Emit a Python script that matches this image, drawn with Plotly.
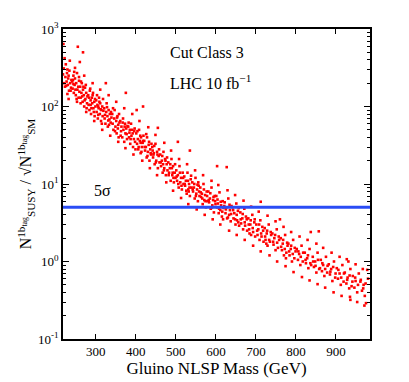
import plotly.graph_objects as go

# valores: massa do gluino (GeV) e significancia N_SUSY/sqrt(N_SM)
massa = [
    218, 220, 221, 223, 224, 225, 227, 228, 230, 231, 233, 234, 236, 238, 239, 219, 222,
    241, 242, 244, 245, 247, 248, 250, 251, 253, 254, 256, 257, 258, 259, 255, 260, 235,
    261, 262, 264, 265, 267, 268, 270, 271, 273, 274, 276, 277, 279, 268,
    281, 282, 284, 285, 287, 288, 290, 291, 293, 294, 296, 297, 299,
    301, 302, 304, 305, 307, 308, 310, 311, 313, 314, 316, 317, 319, 325,
    321, 322, 324, 326, 327, 329, 330, 332, 334, 335, 337, 339,
    341, 342, 344, 346, 347, 349, 351, 352, 354, 356, 357, 359,
    361, 363, 364, 366, 368, 369, 371, 373, 374, 376, 378, 379, 375,
    381, 383, 384, 386, 388, 389, 391, 393, 395, 396, 398,
    401, 403, 405, 406, 408, 410, 412, 413, 415, 417, 419, 402, 418,
    421, 423, 425, 427, 428, 430, 432, 434, 436, 438, 439,
    441, 443, 445, 447, 449, 451, 453, 455, 457, 459, 455,
    461, 463, 465, 467, 469, 471, 473, 475, 477, 479,
    481, 483, 485, 487, 489, 491, 493, 495, 497, 499,
    501, 503, 505, 507, 509, 511, 513, 515, 517, 519, 505,
    521, 523, 525, 527, 529, 531, 533, 535, 537, 539, 535,
    541, 543, 545, 547, 549, 551, 553, 555, 557, 559,
    561, 563, 565, 567, 569, 571, 573, 575, 577, 579,
    581, 583, 585, 587, 589, 591, 593, 595, 597, 599,
    601, 603, 605, 607, 609, 611, 613, 615, 617, 619, 603, 627,
    622, 624, 626, 628, 631, 633, 635, 637, 639,
    642, 644, 646, 649, 651, 653, 655, 658,
    661, 663, 666, 668, 671, 673, 675, 678,
    681, 683, 686, 688, 691, 693, 696, 698,
    701, 704, 706, 709, 711, 714, 716, 719, 712,
    722, 724, 727, 729, 732, 735, 738,
    741, 744, 746, 749, 752, 755, 758, 760,
    762, 765, 767, 770, 773, 776, 779,
    781, 784, 787, 790, 793, 796, 799,
    802, 805, 808, 811, 814, 817,
    822, 825, 828, 831, 834, 838, 837,
    842, 845, 848, 851, 854, 858, 857,
    862, 865, 868, 871, 875, 878,
    882, 885, 888, 891, 895, 898,
    902, 905, 909, 912, 916, 919,
    922, 926, 929, 933, 936, 939, 927, 935,
    942, 946, 949, 953, 957,
    962, 965, 969, 972, 975, 978,
    # segunda leva de pontos, mais espalhados
    226, 229, 232, 237, 243, 246, 249, 252, 258, 263, 266, 269, 272, 275, 278,
    283, 286, 289, 292, 295, 298, 229, 244, 262, 287,
    303, 306, 309, 312, 315, 318, 323, 328, 333, 338, 343, 348, 353, 358,
    362, 367, 372, 377, 382, 387, 392, 397, 306, 331, 355, 385, 399,
    404, 407, 411, 414, 418, 422, 426, 429, 433, 437, 442, 446, 450, 454, 458,
    462, 466, 470, 474, 478, 482, 486, 490, 494, 498, 412, 444, 468, 492,
    502, 506, 510, 514, 518, 522, 526, 530, 534, 538, 542, 546, 550, 554,
    558, 562, 566, 570, 574, 578, 582, 586, 590, 594, 598, 532, 556, 588,
    604, 608, 612, 616, 621, 625, 630, 634, 638, 643, 648, 652,
    657, 662, 667, 672, 677, 682, 687, 692, 697, 618, 656, 684,
    703, 708, 713, 718, 723, 728, 733, 737, 743, 748, 753,
    757, 763, 768, 772, 778, 783, 788, 792, 797, 726, 775,
    806, 812, 818, 824, 830, 836, 843, 849, 855, 860, 866, 873, 879, 886,
    893, 899, 906, 913, 920, 928, 934, 941, 948, 955, 961, 968, 974, 980,
    # pontos mais afastados da faixa central
    232, 248, 253, 271, 276, 292, 296, 311, 316, 332, 336, 351, 356, 371, 374,
    391, 394, 409, 416, 431, 435, 449, 453, 471, 476, 488, 493, 508, 513, 528,
    531, 548, 552, 568, 572, 589, 592, 606, 611, 629, 633, 648, 652, 669, 672,
    688, 693, 707, 712, 729, 734, 749, 753, 769, 774, 788, 794, 809, 815, 829,
    834, 851, 854, 868, 873, 889, 894, 909, 914, 931, 936, 949, 953, 967, 971,
]
significancia = [
    260, 310, 200, 180, 240, 350, 210, 270, 190, 230, 160, 290, 200, 175, 220, 640, 420,
    210, 170, 250, 150, 190, 230, 140, 200, 270, 165, 180, 130, 215, 155, 590, 375, 390,
    180, 130, 150, 200, 115, 165, 140, 100, 175, 125, 150, 95, 135, 500,
    140, 105, 90, 160, 120, 80, 130, 110, 150, 95, 115, 75, 100,
    120, 85, 105, 70, 95, 130, 80, 110, 65, 90, 100, 75, 88, 200,
    95, 70, 60, 85, 110, 75, 55, 90, 68, 80, 62, 72,
    80, 60, 50, 70, 90, 55, 65, 45, 75, 58, 40, 62,
    65, 48, 55, 40, 70, 50, 35, 60, 45, 52, 38, 56, 150,
    55, 40, 46, 33, 60, 42, 50, 30, 38, 48, 35,
    45, 33, 38, 28, 50, 36, 25, 40, 30, 34, 42, 90, 100,
    36, 27, 30, 22, 40, 26, 32, 20, 28, 24, 33,
    30, 22, 25, 18, 33, 20, 26, 16, 23, 19, 53,
    24, 17, 20, 14, 26, 16, 21, 13, 18, 15,
    19, 14, 16, 11, 21, 13, 17, 10.5, 14, 12,
    15, 11, 13, 9, 17, 10.5, 12, 8.5, 14, 10, 35,
    12.5, 9.5, 11, 7.5, 14, 8.5, 10, 7, 11.5, 9, 27,
    10.5, 8, 9, 6.5, 12, 7.5, 8.5, 6, 9.5, 7,
    9, 6.8, 7.5, 5.5, 10, 6.2, 7.2, 5, 8, 6,
    8, 5.8, 6.5, 4.8, 9, 5.3, 6.2, 4.3, 7, 5.5,
    7, 5, 5.6, 4.2, 7.8, 4.6, 5.3, 3.8, 6, 4.9, 17, 16.5,
    5.8, 4.2, 5, 3.6, 6.5, 4, 4.6, 3.3, 5.2,
    5, 3.6, 4.2, 3, 5.6, 3.4, 4.5, 2.9,
    4.3, 3.1, 3.6, 2.6, 4.8, 2.9, 3.8, 2.5,
    3.6, 2.6, 3, 2.2, 4, 2.4, 3.2, 2.1,
    3, 2.2, 2.6, 1.9, 3.4, 2.1, 2.8, 1.8, 5.9,
    2.7, 1.9, 2.3, 1.6, 3, 1.8, 2.2,
    2.3, 1.65, 2, 1.4, 2.6, 1.5, 1.9, 3.5,
    2, 1.4, 1.7, 1.2, 2.2, 1.3, 1.6,
    1.7, 1.2, 1.45, 1.0, 1.9, 1.1, 1.35,
    1.45, 1.05, 1.25, 0.9, 1.6, 1.0,
    1.3, 0.95, 1.1, 0.82, 1.45, 0.9, 2.4,
    1.15, 0.85, 1.0, 0.72, 1.3, 0.8, 2.45,
    1.05, 0.75, 0.9, 0.65, 1.15, 0.72,
    0.92, 0.68, 0.8, 0.56, 1.0, 0.62,
    0.82, 0.6, 0.7, 0.5, 0.9, 0.55,
    0.72, 0.52, 0.62, 0.45, 0.8, 0.48, 1.07, 0.35,
    0.65, 0.46, 0.56, 0.4, 0.7,
    0.58, 0.42, 0.5, 0.36, 0.29, 0.78,
    # segunda leva
    185, 300, 250, 160, 220, 280, 165, 125, 240, 210, 135, 180, 120, 190, 110,
    130, 170, 95, 140, 85, 125, 145, 195, 110, 105,
    140, 78, 115, 92, 60, 125, 78, 98, 58, 85, 95, 48, 72, 80,
    42, 62, 55, 44, 62, 38, 45, 52, 100, 66, 52, 50, 28,
    48, 30, 42, 26, 36, 30, 44, 23, 35, 25, 27, 31, 19, 24, 28,
    19, 23, 15, 20, 22, 13, 18, 16, 12, 18, 34, 24, 18, 14,
    12.5, 10, 14, 9.5, 12, 10, 8.2, 11, 9, 12.8, 8.5, 10, 7, 9.8,
    8, 7.8, 6.5, 8.5, 6, 7, 6.2, 7.6, 5, 6.8, 6, 8, 10.5, 4.9,
    6.3, 4.8, 5.9, 4.4, 5.2, 4.7, 3.7, 5.4, 4.1, 4.6, 3.5, 4,
    4.9, 3.5, 4.1, 3.2, 3.5, 3, 3.4, 2.7, 3.5, 3.5, 3.2, 2.3,
    2.5, 3, 2.3, 2.5, 2.1, 2.5, 1.9, 2.4, 1.8, 2.2, 1.75,
    2.1, 1.55, 1.9, 1.45, 1.75, 1.35, 1.6, 1.25, 1.5, 1.7, 1.1,
    1.35, 1.15, 1.3, 1.05, 1.2, 0.95, 1.0, 0.88, 1.05, 0.82, 0.95, 0.8, 0.88, 0.74,
    0.85, 0.7, 0.78, 0.62, 0.7, 0.58, 0.66, 0.55, 0.62, 0.5, 0.55, 0.45, 0.52, 0.6,
    # terceira leva
    125, 315, 115, 250, 85, 200, 65, 165, 50, 140, 42, 115, 35, 95, 29,
    80, 24, 65, 20, 54, 16, 43, 13, 34, 10.5, 27, 8.2, 21, 6.6, 18,
    5.5, 15, 4.7, 13, 4, 11, 3.5, 9.7, 3, 8.3, 2.5, 7.2, 2.2, 6.1, 1.9,
    5.1, 1.6, 4.4, 1.35, 3.9, 1.2, 3.3, 1.0, 2.8, 0.87, 2.4, 0.73, 2.1, 0.63, 1.9,
    0.57, 1.7, 0.51, 1.5, 0.46, 1.3, 0.4, 1.15, 0.36, 1.0, 0.32, 0.92, 0.3, 0.8, 0.27,
]
limite_5sigma = 5
ticks_x = [300, 400, 500, 600, 700, 800, 900]
ticks_y = [0.1, 1, 10, 100, 1000]
rotulos_y = ['10<sup>-1</sup>', '10<sup>0</sup>', '10<sup>1</sup>', '10<sup>2</sup>', '10<sup>3</sup>']
ticks_y_menores = [0.2, 0.3, 0.4, 0.5, 0.6, 0.7, 0.8, 0.9,
                   2, 3, 4, 5, 6, 7, 8, 9,
                   20, 30, 40, 50, 60, 70, 80, 90,
                   200, 300, 400, 500, 600, 700, 800, 900]

fonte = 'Liberation Serif'

fig = go.Figure()
fig.add_trace(go.Scatter(
    x=massa, y=significancia, mode='markers',
    marker=dict(color='#ff0000', size=2.6, symbol='square', line=dict(width=0)),
    showlegend=False, hoverinfo='skip'
))

# linha de 5 sigma
fig.add_shape(type='line', xref='paper', x0=0, x1=1, y0=limite_5sigma, y1=limite_5sigma,
              line=dict(color='#2a4cf5', width=3))

anot = dict(xref='paper', yref='paper', showarrow=False, xanchor='center', yanchor='middle',
            font=dict(family=fonte, size=16, color='black'))
fig.add_annotation(x=0.47, y=0.925, text='Cut Class 3', **anot)
fig.add_annotation(x=0.48, y=0.83, text='LHC 10 fb<sup>−1</sup>', **anot)
fig.add_annotation(x=0.13, y=0.48, text='5σ', **anot)

eixo = dict(showline=True, linecolor='black', linewidth=1.5, mirror='ticks',
            ticks='inside', tickcolor='black', showgrid=False, zeroline=False,
            tickfont=dict(family=fonte, size=13, color='black'))

# a pagina tem 8px de margem no body, por isso a figura fica menor que a janela
fig.update_layout(
    width=401, height=374,
    margin=dict(l=55, r=39, t=21, b=43),
    paper_bgcolor='white', plot_bgcolor='white',
    font=dict(family=fonte, color='black'),
    xaxis=dict(range=[218, 985], tickvals=ticks_x, ticklen=5,
               title=dict(text='Gluino NLSP Mass (GeV)', font=dict(family=fonte, size=17), standoff=0),
               **eixo),
    yaxis=dict(type='log', range=[-1, 3], tickvals=ticks_y, ticktext=rotulos_y, ticklen=6,
               minor=dict(ticks='inside', ticklen=3, tickcolor='black', tickvals=ticks_y_menores),
               title=dict(text='N<sup>1b<sub>tag</sub></sup><sub>SUSY</sub> / √N<sup>1b<sub>tag</sub></sup><sub>SM</sub>',
                          font=dict(family=fonte, size=16), standoff=2),
               **eixo),
)

fig.write_html("out.html")
